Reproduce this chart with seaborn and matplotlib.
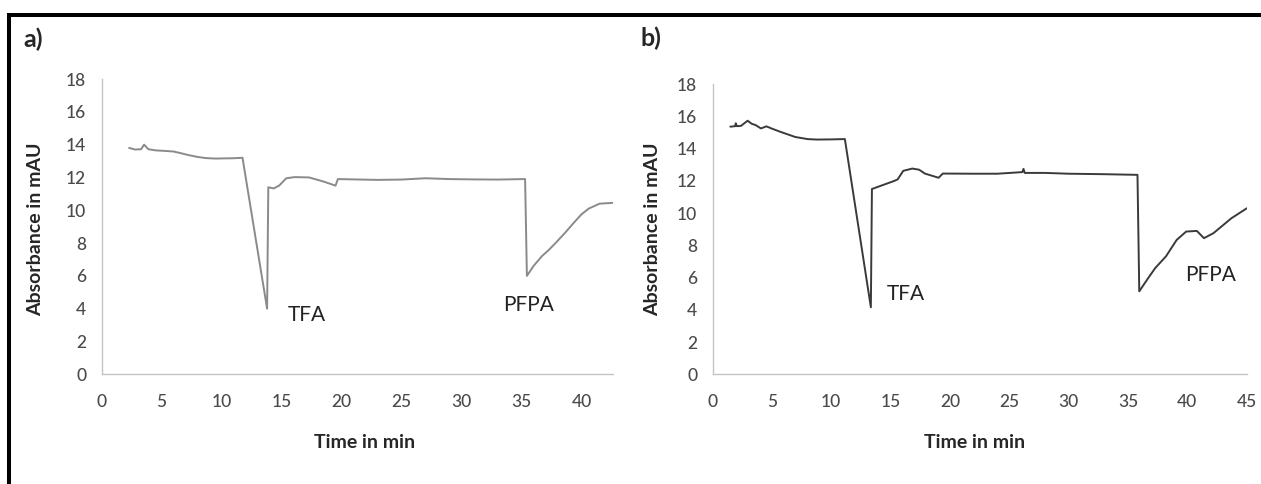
import numpy as np
import pandas as pd
import seaborn as sns
import matplotlib
matplotlib.use("Agg")
import matplotlib.pyplot as plt
from matplotlib.lines import Line2D

# ---------------- data ----------------
time_a = [2.3, 2.8, 3.3, 3.55, 3.9, 4.5, 5.2, 6.0, 6.6, 7.2, 8.0, 8.7, 9.5, 10.2,
          11.0, 11.75, 13.8, 13.9, 14.35, 14.8, 15.4, 16.1, 17.3, 18.5, 19.5, 19.7,
          21.0, 23.0, 25.0, 27.0, 29.0, 31.0, 33.0, 35.3, 35.45, 36.0, 36.7, 37.3,
          37.9, 38.6, 39.4, 40.0, 40.6, 41.5, 42.6]
abs_a = [13.8, 13.7, 13.72, 14.0, 13.72, 13.65, 13.62, 13.58, 13.48, 13.37, 13.25,
         13.18, 13.15, 13.16, 13.17, 13.2, 4.0, 11.4, 11.33, 11.5, 11.95, 12.02,
         12.0, 11.75, 11.5, 11.9, 11.88, 11.85, 11.87, 11.95, 11.9, 11.88, 11.87,
         11.9, 6.0, 6.6, 7.2, 7.6, 8.05, 8.6, 9.27, 9.75, 10.1, 10.4, 10.45]

time_b = [1.5, 1.9, 1.96, 2.05, 2.4, 2.96, 3.3, 3.63, 4.08, 4.54, 5.0, 5.76, 6.97,
          8.0, 8.78, 10.0, 11.15, 13.34, 13.43, 13.95, 14.55, 15.3, 15.6, 16.07,
          16.83, 17.4, 17.89, 18.95, 19.05, 19.4, 22.0, 24.0, 26.1, 26.2, 26.3,
          28.0, 30.0, 33.0, 35.8, 35.95, 36.7, 37.3, 38.2, 39.1, 39.9, 40.8, 41.4,
          42.2, 43.7, 45.0]
abs_b = [15.37, 15.4, 15.58, 15.4, 15.42, 15.74, 15.55, 15.47, 15.26, 15.39, 15.25,
         15.04, 14.73, 14.6, 14.57, 14.58, 14.6, 4.16, 11.5, 11.64, 11.8, 12.0, 12.1,
         12.63, 12.77, 12.7, 12.46, 12.22, 12.2, 12.46, 12.45, 12.45, 12.55, 12.75,
         12.5, 12.5, 12.45, 12.42, 12.38, 5.15, 5.97, 6.6, 7.32, 8.34, 8.86, 8.9,
         8.45, 8.76, 9.68, 10.3]

y_ticks = [0, 2, 4, 6, 8, 10, 12, 14, 16, 18]
x_ticks_a = [0, 5, 10, 15, 20, 25, 30, 35, 40]
x_ticks_b = [0, 5, 10, 15, 20, 25, 30, 35, 40, 45]
panel_labels = ["a)", "b)"]
peak_labels = ["TFA", "PFPA"]
x_label = "Time in min"
y_label = "Absorbance in mAU"

# ---------------- style ----------------
sns.set_style("white")
plt.rcParams["font.family"] = ["Lato", "DejaVu Sans"]

W, H = 1261, 484
fig = plt.figure(figsize=(W / 100, H / 100), dpi=100)
fig.patch.set_facecolor("white")


def rect(left, top, right, bottom):
    return [left / W, 1 - bottom / H, (right - left) / W, (bottom - top) / H]


def fx(x):
    return x / W


def fy(y):
    return 1 - y / H


ax_a = fig.add_axes(rect(101.5, 79.0, 612.7, 374.3))
ax_b = fig.add_axes(rect(712.5, 84.3, 1246.7, 374.3))

df_a = pd.DataFrame({"t": time_a, "a": abs_a})
df_b = pd.DataFrame({"t": time_b, "a": abs_b})

sns.lineplot(data=df_a, x="t", y="a", ax=ax_a, color="#8a8a8a", linewidth=1.4,
             estimator=None, sort=False)
sns.lineplot(data=df_b, x="t", y="a", ax=ax_b, color="#3a3a3a", linewidth=1.4,
             estimator=None, sort=False)

spine_col = "#c4c4c4"
for ax, xmax, xt in [(ax_a, 42.6, x_ticks_a), (ax_b, 45.0, x_ticks_b)]:
    ax.set_xlim(0, xmax)
    ax.set_ylim(0, 18)
    ax.set_xticks(xt)
    ax.set_yticks(y_ticks)
    ax.set_xlabel("")
    ax.set_ylabel("")
    for s in ["top", "right"]:
        ax.spines[s].set_visible(False)
    for s in ["left", "bottom"]:
        ax.spines[s].set_color(spine_col)
        ax.spines[s].set_linewidth(1.0)
    ax.tick_params(axis="both", direction="out", length=4, width=1.0,
                   color=spine_col, labelcolor="#4a4a4a", labelsize=12.5)
    ax.tick_params(axis="y", pad=7)
    ax.tick_params(axis="x", pad=10)
    for lab in ax.get_xticklabels() + ax.get_yticklabels():
        lab.set_fontweight("medium")
    ax.set_facecolor("none")

# peak annotations (data coordinates)
ax_a.text(15.5, 3.6, peak_labels[0], fontsize=15, color="#222222", va="center", ha="left")
ax_a.text(33.5, 4.2, peak_labels[1], fontsize=15, color="#222222", va="center", ha="left")
ax_b.text(14.7, 4.96, peak_labels[0], fontsize=15, color="#222222", va="center", ha="left")
ax_b.text(39.8, 6.16, peak_labels[1], fontsize=15, color="#222222", va="center", ha="left")

# axis labels
fig.text(fx(365), fy(443), x_label, fontsize=14, fontweight="bold", ha="center", va="center")
fig.text(fx(975), fy(442), x_label, fontsize=14, fontweight="bold", ha="center", va="center")
fig.text(fx(36), fy(229), y_label, fontsize=14, fontweight="bold", ha="center", va="center",
         rotation=90)
fig.text(fx(653), fy(229), y_label, fontsize=14, fontweight="bold", ha="center", va="center",
         rotation=90)

# panel letters
fig.text(fx(23), fy(39), panel_labels[0], fontsize=18, fontweight="bold", ha="left", va="center")
fig.text(fx(640), fy(38), panel_labels[1], fontsize=18, fontweight="bold", ha="left", va="center")

# black frame (top and left)
fig.add_artist(Line2D([fx(7), 1.0], [fy(15.3), fy(15.3)], color="black",
                      linewidth=2.9, solid_capstyle="butt", transform=fig.transFigure))
fig.add_artist(Line2D([fx(9), fx(9)], [fy(13.3), 0.0], color="black",
                      linewidth=2.9, solid_capstyle="butt", transform=fig.transFigure))

fig.savefig("out.png", dpi=100, facecolor="white")
